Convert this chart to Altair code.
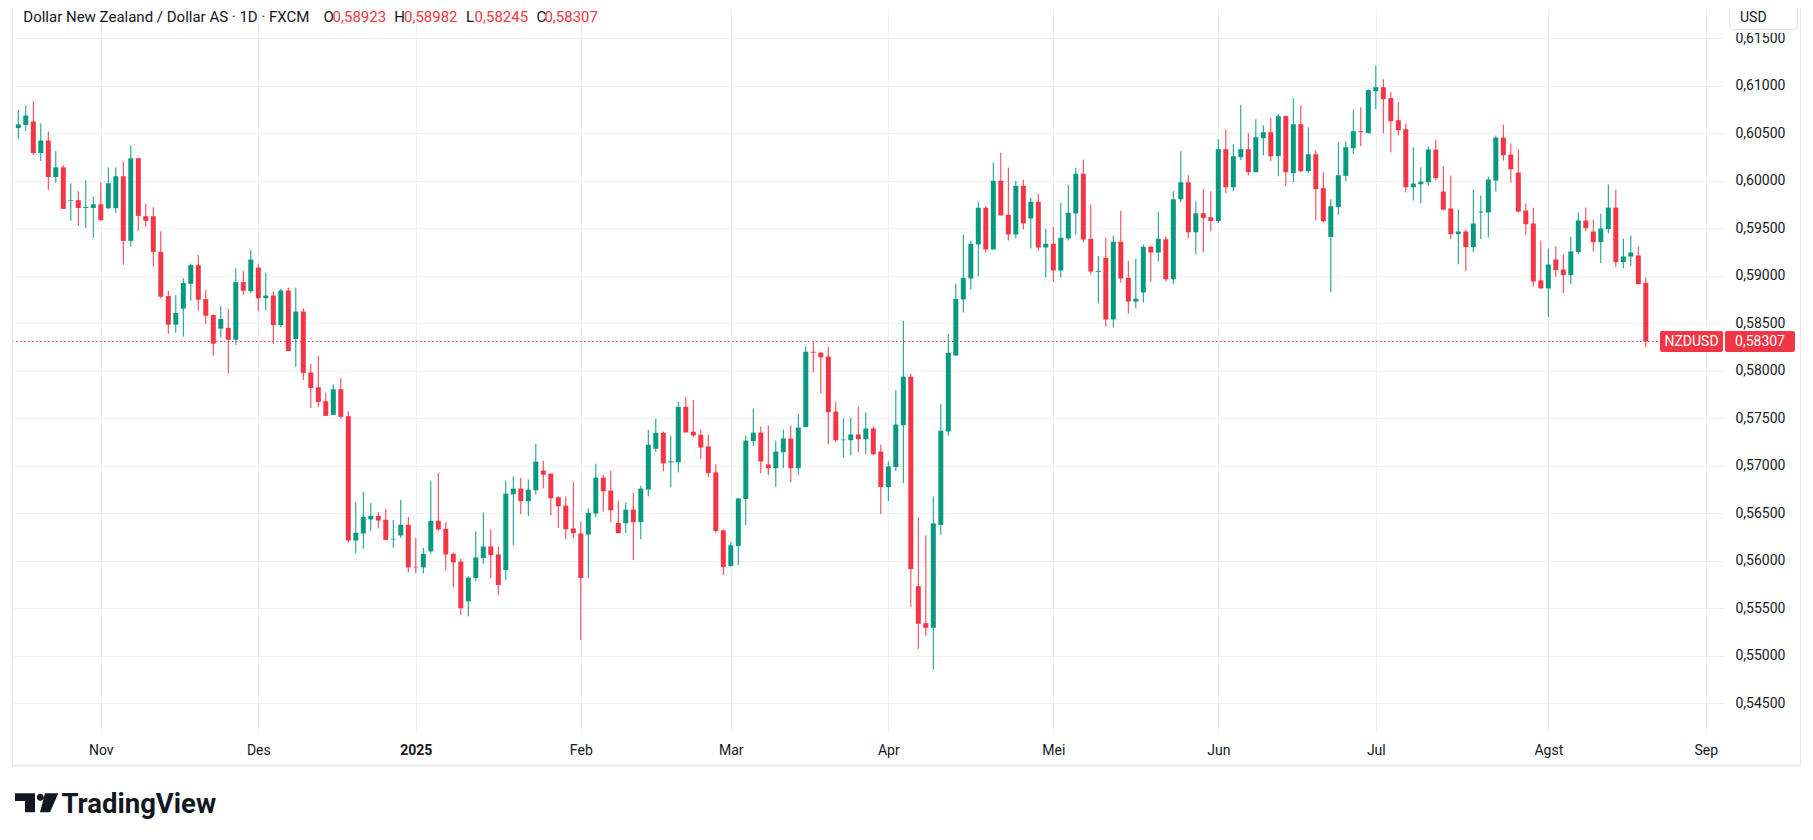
import altair as alt
import pandas as pd

# ---------------- data ----------------
opens = [0.60552,0.60584,0.60622,0.60290,0.60422,0.60038,0.60139,0.59786,0.59793,0.59712,
0.59712,0.59750,0.59709,0.59709,0.60045,0.59366,0.60234,0.59625,0.59625,0.59250,
0.58785,0.58484,0.58652,0.58914,0.59110,0.58753,0.58585,0.58442,0.58449,0.58326,
0.58932,0.58836,0.59084,0.58762,0.58790,0.58479,0.58843,0.58332,0.58622,0.57980,
0.57825,0.57678,0.57535,0.57804,0.57521,0.56213,0.56287,0.56434,0.56472,0.56430,
0.56224,0.56266,0.56378,0.55937,0.55930,0.56098,0.56420,0.56336,0.56073,0.55990,
0.55573,0.55818,0.56028,0.56150,0.56066,0.55902,0.56699,0.56759,0.56626,0.56741,
0.56948,0.56916,0.56668,0.56580,0.56339,0.56287,0.56276,0.56497,0.56874,0.56738,
0.56399,0.56395,0.56538,0.56406,0.56748,0.57178,0.57346,0.57035,0.57035,0.57619,
0.57357,0.57325,0.57202,0.56929,0.56320,0.55945,0.56155,0.56649,0.57258,0.57348,
0.57013,0.56974,0.57142,0.57286,0.56974,0.57405,0.58199,0.58189,0.58147,0.57569,
0.57268,0.57268,0.57328,0.57279,0.57391,0.57149,0.56775,0.56985,0.57426,0.57937,
0.55732,0.55343,0.55294,0.56377,0.57360,0.58159,0.58749,0.58970,0.59328,0.59714,
0.59275,0.59998,0.59640,0.59433,0.59945,0.59601,0.59777,0.59296,0.59335,0.59054,
0.59391,0.59654,0.60072,0.59387,0.59040,0.59187,0.58538,0.59356,0.58977,0.58727,
0.58822,0.59303,0.59243,0.59382,0.58961,0.59803,0.59982,0.59456,0.59656,0.59614,
0.59575,0.60330,0.59930,0.60246,0.60330,0.60088,0.60446,0.60509,0.60256,0.60677,
0.60077,0.60593,0.60098,0.60277,0.59919,0.59407,0.59723,0.60049,0.60340,0.60519,
0.60498,0.60940,0.60982,0.60867,0.60635,0.60540,0.59930,0.59961,0.59982,0.60326,
0.59884,0.59706,0.59436,0.59464,0.59299,0.59664,0.59664,0.60000,0.60452,0.60273,
0.60084,0.59685,0.59548,0.58949,0.58865,0.59170,0.59064,0.59005,0.59247,0.59580,
0.59464,0.59352,0.59488,0.59716,0.59142,0.59201,0.59212,0.58923]

highs = [0.60745,0.60790,0.60832,0.60601,0.60517,0.60311,0.60160,0.59971,0.59887,0.60003,
0.59828,0.59982,0.60139,0.60139,0.60200,0.60370,0.60240,0.59758,0.59719,0.59467,
0.58840,0.58795,0.58973,0.59124,0.59215,0.58848,0.58592,0.58680,0.58648,0.59078,
0.59047,0.59273,0.59126,0.59031,0.58832,0.58864,0.58874,0.58874,0.58654,0.58073,
0.58157,0.57769,0.57857,0.57920,0.57573,0.56619,0.56724,0.56608,0.56514,0.56545,
0.56430,0.56640,0.56462,0.56241,0.56136,0.56843,0.56923,0.56409,0.56084,0.56021,
0.55836,0.56308,0.56507,0.56329,0.56150,0.56843,0.56885,0.56874,0.56853,0.57231,
0.57052,0.56916,0.56678,0.56675,0.56832,0.56413,0.56549,0.57021,0.56902,0.56948,
0.56633,0.56612,0.56717,0.56790,0.57378,0.57493,0.57357,0.57315,0.57671,0.57724,
0.57692,0.57380,0.57328,0.57013,0.56330,0.56197,0.56656,0.57317,0.57601,0.57412,
0.57422,0.57264,0.57380,0.57422,0.57548,0.58252,0.58304,0.58199,0.58252,0.57674,
0.57496,0.57506,0.57622,0.57559,0.57412,0.57223,0.57044,0.57793,0.58525,0.57968,
0.56456,0.56267,0.56677,0.57651,0.58388,0.58913,0.59429,0.59366,0.59777,0.59735,
0.60188,0.60293,0.60135,0.59998,0.60009,0.59819,0.59861,0.59493,0.59514,0.59766,
0.59956,0.60135,0.60219,0.59745,0.59208,0.59398,0.59419,0.59682,0.59156,0.59177,
0.59324,0.59314,0.59672,0.59407,0.59888,0.60309,0.60056,0.59782,0.59909,0.59888,
0.60435,0.60540,0.60382,0.60796,0.60498,0.60646,0.60582,0.60656,0.60698,0.60688,
0.60867,0.60793,0.60561,0.60319,0.60088,0.59803,0.60404,0.60414,0.60740,0.60772,
0.60960,0.61210,0.61067,0.60930,0.60825,0.60600,0.60350,0.60140,0.60357,0.60431,
0.60151,0.60053,0.59695,0.59485,0.59905,0.59842,0.60042,0.60473,0.60589,0.60392,
0.60326,0.59758,0.59716,0.59369,0.59285,0.59306,0.59222,0.59411,0.59664,0.59716,
0.59590,0.59653,0.59958,0.59905,0.59390,0.59422,0.59306,0.58982]

lows = [0.60437,0.60521,0.60268,0.60206,0.59901,0.59975,0.59702,0.59576,0.59523,0.59502,
0.59397,0.59576,0.59698,0.59660,0.59114,0.59303,0.59471,0.59513,0.59093,0.58757,
0.58386,0.58400,0.58358,0.58736,0.58631,0.58494,0.58158,0.58347,0.57969,0.58270,
0.58795,0.58815,0.58626,0.58633,0.58280,0.58458,0.58206,0.58038,0.57902,0.57608,
0.57619,0.57524,0.57535,0.57493,0.56192,0.56077,0.56126,0.56318,0.56339,0.56213,
0.56136,0.56241,0.55878,0.55867,0.55867,0.56077,0.56318,0.55899,0.55720,0.55427,
0.55416,0.55787,0.55965,0.55818,0.55640,0.55797,0.56164,0.56490,0.56469,0.56699,
0.56762,0.56479,0.56343,0.56227,0.56238,0.55168,0.55818,0.56458,0.56517,0.56406,
0.56290,0.56290,0.56007,0.56227,0.56678,0.57147,0.56941,0.56773,0.56930,0.57350,
0.57297,0.57069,0.56880,0.56292,0.55850,0.55935,0.55956,0.56376,0.57205,0.56922,
0.56901,0.56775,0.56974,0.56827,0.56901,0.57405,0.57982,0.57762,0.57226,0.57247,
0.57089,0.57110,0.57142,0.57121,0.57110,0.56491,0.56628,0.56943,0.56817,0.55515,
0.55074,0.55210,0.54853,0.56272,0.57318,0.58159,0.58612,0.58854,0.58991,0.59243,
0.59275,0.59633,0.59370,0.59391,0.59486,0.59286,0.59264,0.58980,0.58938,0.58980,
0.59370,0.59433,0.59349,0.59012,0.58706,0.58464,0.58454,0.58927,0.58601,0.58654,
0.58717,0.58938,0.59149,0.58937,0.58912,0.59772,0.59393,0.59224,0.59246,0.59467,
0.59554,0.59867,0.59888,0.60214,0.60056,0.60088,0.60267,0.60204,0.60046,0.59940,
0.59982,0.60088,0.60077,0.59582,0.59561,0.58828,0.59639,0.59993,0.60277,0.60361,
0.60498,0.60751,0.60498,0.60298,0.60477,0.59877,0.59790,0.59762,0.59947,0.60000,
0.59685,0.59383,0.59120,0.59047,0.59247,0.59383,0.59404,0.59884,0.60210,0.59979,
0.59664,0.59425,0.58886,0.58865,0.58563,0.58984,0.58816,0.58910,0.59226,0.59467,
0.59254,0.59131,0.59446,0.59089,0.59078,0.59100,0.58910,0.58245]

closes = [0.60591,0.60685,0.60290,0.60422,0.60038,0.60139,0.59702,0.59793,0.59712,0.59723,
0.59750,0.59583,0.59971,0.60045,0.59366,0.60234,0.59628,0.59576,0.59250,0.58778,
0.58484,0.58606,0.58921,0.59110,0.58746,0.58578,0.58284,0.58543,0.58326,0.58932,
0.58840,0.59168,0.58762,0.58790,0.58479,0.58843,0.58206,0.58622,0.57976,0.57818,
0.57671,0.57524,0.57804,0.57514,0.56213,0.56294,0.56462,0.56472,0.56423,0.56220,
0.56231,0.56378,0.55930,0.55930,0.56073,0.56420,0.56329,0.56066,0.55983,0.55500,
0.55822,0.56035,0.56150,0.56059,0.55745,0.56706,0.56759,0.56626,0.56748,0.57042,
0.56906,0.56657,0.56573,0.56332,0.56290,0.55818,0.56503,0.56874,0.56731,0.56531,
0.56290,0.56538,0.56406,0.56759,0.57220,0.57346,0.57024,0.57045,0.57619,0.57350,
0.57318,0.57192,0.56922,0.56313,0.55935,0.56162,0.56656,0.57264,0.57348,0.57044,
0.56974,0.57149,0.57286,0.56974,0.57401,0.58199,0.58189,0.58140,0.57562,0.57268,
0.57275,0.57328,0.57279,0.57391,0.57121,0.56775,0.56992,0.57433,0.57937,0.55914,
0.55336,0.55294,0.56393,0.57367,0.58188,0.58756,0.58977,0.59335,0.59714,0.59275,
0.59998,0.59633,0.59433,0.59945,0.59549,0.59777,0.59296,0.59335,0.59054,0.59398,
0.59661,0.60072,0.59380,0.59043,0.59050,0.58538,0.59356,0.58970,0.58727,0.58756,
0.59303,0.59243,0.59387,0.58961,0.59803,0.59982,0.59456,0.59656,0.59607,0.59575,
0.60330,0.59930,0.60256,0.60330,0.60088,0.60456,0.60509,0.60256,0.60677,0.60088,
0.60593,0.60098,0.60277,0.59909,0.59572,0.59730,0.60056,0.60351,0.60519,0.60509,
0.60951,0.60982,0.60856,0.60625,0.60530,0.59930,0.59968,0.59989,0.60326,0.60025,
0.59695,0.59436,0.59464,0.59299,0.59548,0.59674,0.60011,0.60452,0.60266,0.60119,
0.59674,0.59541,0.58938,0.58865,0.59117,0.59057,0.59005,0.59254,0.59580,0.59499,
0.59352,0.59495,0.59716,0.59142,0.59201,0.59243,0.58910,0.58307]

first_day = "2024-10-17"
axis_end_day = "2025-09-01"
market_holidays = ["2024-12-25", "2025-01-01"]
month_keys = ["2024-11", "2024-12", "2025-01", "2025-02", "2025-03", "2025-04",
              "2025-05", "2025-06", "2025-07", "2025-08", "2025-09"]
month_labels = ["Nov", "Des", "2025", "Feb", "Mar", "Apr", "Mei", "Jun", "Jul", "Agst", "Sep"]
price_ticks = [0.545, 0.550, 0.555, 0.560, 0.565, 0.570, 0.575, 0.580,
               0.585, 0.590, 0.595, 0.600, 0.605, 0.610, 0.615]
symbol = "NZDUSD"
title_text = "Dollar New Zealand / Dollar AS \u00b7 1D \u00b7 FXCM"

# ---------------- derived tables ----------------
days = [d for d in pd.bdate_range(first_day, axis_end_day)
        if d.strftime("%Y-%m-%d") not in market_holidays]
day_keys = [d.strftime("%Y-%m") for d in days]
month_idx = [day_keys.index(k) for k in month_keys]

n = len(opens)
df = pd.DataFrame({
    "i": list(range(n)),
    "date": [d.strftime("%Y-%m-%d") for d in days[:n]],
    "open": opens, "high": highs, "low": lows, "close": closes,
})

def fmt(v):
    return f"{v:.5f}".replace(".", ",")

last_close = closes[-1]

# ---------------- styling ----------------
GREEN = "#089981"
RED = "#F23645"
TXT = "#131722"
GRID = "#F0F1F4"
FONT = "Roboto"
W, H = 1711, 722

xs = alt.Scale(domain=[-0.84, 227.29], nice=False, zero=False, padding=0)
ys = alt.Scale(domain=[0.542189, 0.618157], nice=False, zero=False, padding=0)
col = alt.condition("datum.close >= datum.open", alt.value(GREEN), alt.value(RED))

lab_js = "[" + ",".join(f"'{l}'" for l in month_labels) + "]"
idx_js = "[" + ",".join(str(v) for v in month_idx) + "]"

xaxis = alt.Axis(
    values=month_idx, labelExpr=f"{lab_js}[indexof({idx_js}, datum.value)]",
    grid=True, gridColor=GRID, gridWidth=1, domain=False, ticks=False, tickSize=0,
    labelPadding=24, labelBaseline="alphabetic", labelFontSize=14, labelFont=FONT,
    labelColor=TXT, labelFlush=False, labelOverlap=False, title=None,
    labelFontWeight={"condition": {"test": f"datum.value == {month_idx[2]}", "value": "bold"},
                     "value": "normal"},
)
yaxis = alt.Axis(
    orient="right", values=price_ticks,
    labelExpr="replace(format(datum.value, '.5f'), '.', ',')",
    grid=True, gridColor=GRID, gridWidth=1, domain=False, ticks=False, tickSize=0,
    labelPadding=12, labelFontSize=14, labelFont=FONT, labelColor=TXT,
    labelFlush=False, labelOverlap=False, title=None,
)

wicks = alt.Chart(df).mark_rule(strokeWidth=1).encode(
    x=alt.X("i:Q", scale=xs, axis=xaxis),
    y=alt.Y("low:Q", scale=ys, axis=yaxis),
    y2="high:Q",
    color=col,
)
bodies = alt.Chart(df).mark_bar(width=5).encode(
    x=alt.X("i:Q", scale=xs),
    y=alt.Y("open:Q", scale=ys),
    y2="close:Q",
    color=col,
)

lastdf = pd.DataFrame({"p": [last_close], "hi": [last_close + 0.00111],
                       "lo": [last_close - 0.00111], "sym": [symbol], "val": [fmt(last_close)]})
price_line = alt.Chart(lastdf).mark_rule(color=RED, strokeDash=[1.5, 2.5], strokeWidth=1).encode(
    y=alt.Y("p:Q", scale=ys), x=alt.value(0), x2=alt.value(1648))
box1 = alt.Chart(lastdf).mark_rect(color=RED, cornerRadius=2).encode(
    y=alt.Y("hi:Q", scale=ys), y2="lo:Q", x=alt.value(1648), x2=alt.value(1711))
box2 = alt.Chart(lastdf).mark_rect(color=RED, cornerRadius=2).encode(
    y=alt.Y("hi:Q", scale=ys), y2="lo:Q", x=alt.value(1713), x2=alt.value(1783))
box1t = alt.Chart(lastdf).mark_text(color="white", fontSize=14, font=FONT, align="center",
                                    baseline="middle", dy=1).encode(
    y=alt.Y("p:Q", scale=ys), x=alt.value(1679.5), text="sym:N")
box2t = alt.Chart(lastdf).mark_text(color="white", fontSize=14, font=FONT, align="center",
                                    baseline="middle", dy=1).encode(
    y=alt.Y("p:Q", scale=ys), x=alt.value(1748), text="val:N")

one = pd.DataFrame({"k": [0]})

def txt(s, x, y, size=14, color=TXT, weight="normal", align="left", baseline="alphabetic", font=FONT):
    return alt.Chart(one).mark_text(text=s, fontSize=size, color=color, fontWeight=weight,
                                    align=align, baseline=baseline, font=font).encode(
        x=alt.value(x), y=alt.value(y))

def rule(x, y, x2=None, y2=None, color="#E6E8ED", w=1):
    enc = {"x": alt.value(x), "y": alt.value(y)}
    if x2 is not None:
        enc["x2"] = alt.value(x2)
    if y2 is not None:
        enc["y2"] = alt.value(y2)
    return alt.Chart(one).mark_rule(color=color, strokeWidth=w).encode(**enc)

HB = 14.2   # header baseline (relative to plot top)
HS = 15     # header font size
header = [
    txt(title_text, 11.3, HB, size=HS),
    txt("O", 311.4, HB, size=HS), txt(fmt(opens[-1]), 320.6, HB, size=HS, color=RED),
    txt("H", 382.2, HB, size=HS), txt(fmt(highs[-1]), 392.0, HB, size=HS, color=RED),
    txt("L", 454.1, HB, size=HS), txt(fmt(lows[-1]), 462.6, HB, size=HS, color=RED),
    txt("C", 524.6, HB, size=HS), txt(fmt(closes[-1]), 532.4, HB, size=HS, color=RED),
]

usd_cover = alt.Chart(one).mark_rect(color="white").encode(
    x=alt.value(1713), x2=alt.value(1790), y=alt.value(-8), y2=alt.value(25))
usd_box = alt.Chart(one).mark_rect(fill="white", stroke="#E0E3EB", strokeWidth=1, cornerRadius=4).encode(
    x=alt.value(1717.5), x2=alt.value(1785.5), y=alt.value(-14), y2=alt.value(21.5))
usd_text = txt("USD", 1728, 9.5, baseline="middle")

borders = [
    rule(0.5, -8, y2=757.5, color="#E6E8ED"),
    rule(1788.5, -8, y2=757.5, color="#E6E8ED"),
    rule(0, 757.5, x2=1789, color="#EBEDF0", w=2),
]

logo_path = ("M -0.977 -0.441 L -0.068 -0.441 L -0.068 0.423 L -0.523 0.423 L -0.523 -0.091 L -0.977 -0.091 Z "
             "M 0.013 -0.259 A 0.16 0.16 0 1 0 0.333 -0.259 A 0.16 0.16 0 1 0 0.013 -0.259 Z "
             "M 0.386 -0.441 L 0.991 -0.441 L 0.614 0.423 L 0.159 0.423 Z")
logo_icon = alt.Chart(one).mark_point(shape=logo_path, size=1936, filled=True, color="#131722",
                                      opacity=1, strokeWidth=0).encode(
    x=alt.value(24.5), y=alt.value(795))
logo_text = txt("TradingView", 49.5, 804.5, size=27.5, weight="bold", color="#131722")

chart = alt.layer(
    wicks, price_line, bodies, box1, box2, box1t, box2t,
    *header, usd_cover, usd_box, usd_text, *borders, logo_icon, logo_text,
).properties(
    width=W, height=H,
    autosize=alt.AutoSizeParams(type="none"),
    padding={"left": 4, "top": 0, "right": 82, "bottom": 95},
    background="white",
).configure_view(stroke=None)

chart.save("out.html", embed_options={"renderer": "svg", "actions": False})
